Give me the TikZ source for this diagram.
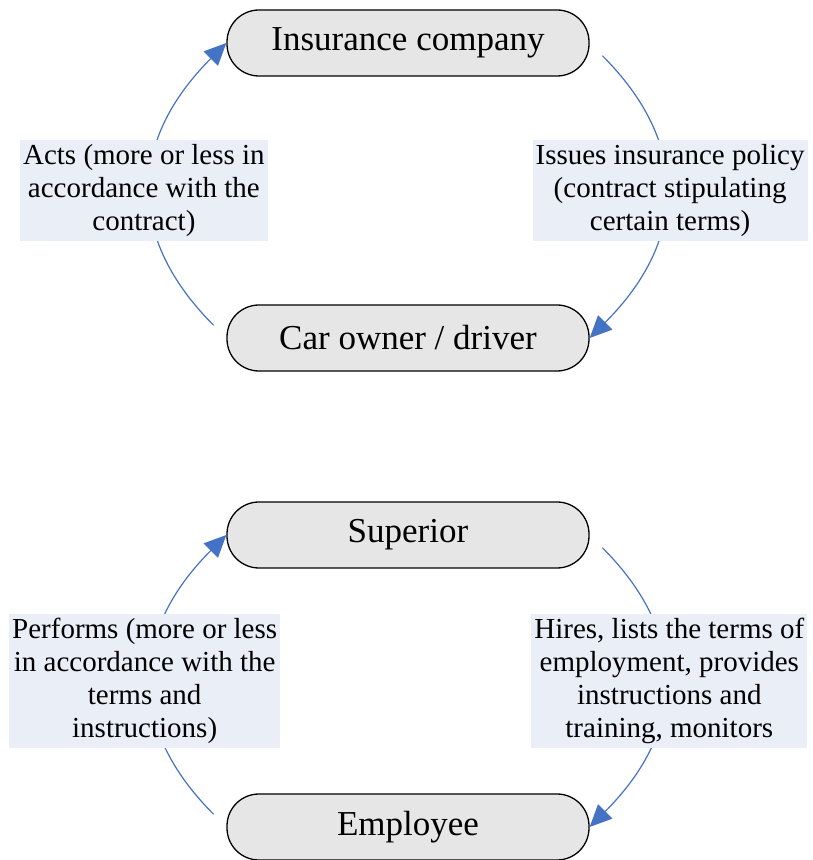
\documentclass[tikz,border=0pt]{standalone}
\usepackage{fontspec}
\setmainfont{Liberation Serif}
\usetikzlibrary{arrows.meta}

\definecolor{boxgray}{HTML}{E6E6E6}
\definecolor{notebg}{HTML}{E9EEF7}
\definecolor{flowblue}{HTML}{4472C4}

\tikzset{
  party/.style={draw, line width=1.3pt, fill=boxgray, rounded corners=32pt,
    minimum width=362pt, minimum height=66pt, inner sep=0pt,
    font=\fontsize{35}{40}\selectfont},
  note/.style={fill=notebg, inner xsep=3pt, inner ysep=4pt, align=center,
    font=\fontsize{29}{33}\selectfont},
  flow/.style={->, draw=flowblue, line width=1.2pt, looseness=1.22, shorten <=18pt}
}

\begin{document}
\begin{tikzpicture}[x=1pt, y=1pt, >={Triangle[length=22pt,width=20pt]}]

\useasboundingbox (0,0) rectangle (812,860);

\node [party] (insurer)  at (408,817) {Insurance company};
\node [party] (owner)    at (408,522) {Car owner / driver};
\node [party] (superior) at (408,325) {Superior};
\node [party] (employee) at (408,33)  {Employee};

\draw [flow] (insurer.east) to [out=-45,in=45]
  node [note, xshift=6pt] {Issues insurance policy\\(contract stipulating\\certain terms)} (owner.east);
\draw [flow] (owner.west) to [out=135,in=-135]
  node [note, xshift=-8pt] {Acts (more or less in\\accordance with the\\contract)} (insurer.west);

\draw [flow] (superior.east) to [out=-45,in=45]
  node [note, xshift=6pt] {Hires, lists the terms of\\employment, provides\\instructions and\\training, monitors} (employee.east);
\draw [flow] (employee.west) to [out=135,in=-135]
  node [note, xshift=-8pt] {Performs (more or less\\in accordance with the\\terms and\\instructions)} (superior.west);

\end{tikzpicture}
\end{document}
